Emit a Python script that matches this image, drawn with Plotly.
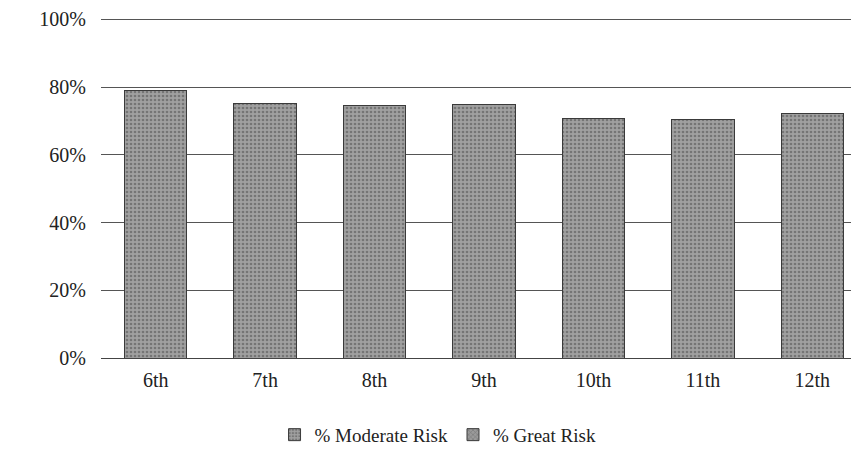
import plotly.graph_objects as go

# grade levels and share of students reporting risk
grades = ['6th', '7th', '8th', '9th', '10th', '11th', '12th']
moderate_risk = [0.79, 0.753, 0.746, 0.748, 0.707, 0.703, 0.722]
great_risk = [None, None, None, None, None, None, None]  # no separate segment visible in the scan

y_ticks = [0, 0.2, 0.4, 0.6, 0.8, 1.0]
y_tick_text = ['0%', '20%', '40%', '60%', '80%', '100%']

fig = go.Figure()

fig.add_trace(go.Bar(
    x=grades,
    y=moderate_risk,
    name='% Moderate Risk',
    marker=dict(
        color='#a0a0a0',
        line=dict(color='#3a3a3a', width=1),
        pattern=dict(shape='.', fgcolor='#4a4a4a', size=4, solidity=0.35),
    ),
))

fig.add_trace(go.Bar(
    x=grades,
    y=great_risk,
    name='% Great Risk',
    marker=dict(
        color='#9a9a9a',
        line=dict(color='#3a3a3a', width=1),
        pattern=dict(shape='x', fgcolor='#4a4a4a', size=4, solidity=0.3),
    ),
))

fig.update_layout(
    width=859,
    height=453,
    barmode='stack',
    bargap=0.43,
    plot_bgcolor='white',
    paper_bgcolor='white',
    margin=dict(l=93, r=0, t=10, b=103),
    font=dict(family='Liberation Serif', color='#222222'),
    showlegend=True,
    legend=dict(
        orientation='h',
        traceorder='normal',
        x=0.44, xanchor='center',
        y=-0.17, yanchor='top',
        font=dict(size=19, family='Liberation Serif', color='#222222'),
        itemwidth=30,
    ),
    xaxis=dict(
        tickfont=dict(size=20, family='Liberation Serif', color='#222222'),
        showgrid=False,
        showline=False,
        ticks='',
        ticklabelstandoff=8,
    ),
    yaxis=dict(
        range=[0, 1.004],
        tickvals=y_ticks,
        ticktext=y_tick_text,
        tickfont=dict(size=20, family='Liberation Serif', color='#222222'),
        showgrid=True,
        gridcolor='#555555',
        gridwidth=1,
        zeroline=True,
        zerolinecolor='#444444',
        zerolinewidth=1,
        ticks='',
        ticklabelstandoff=14,
    ),
)

fig.write_html("out.html")
